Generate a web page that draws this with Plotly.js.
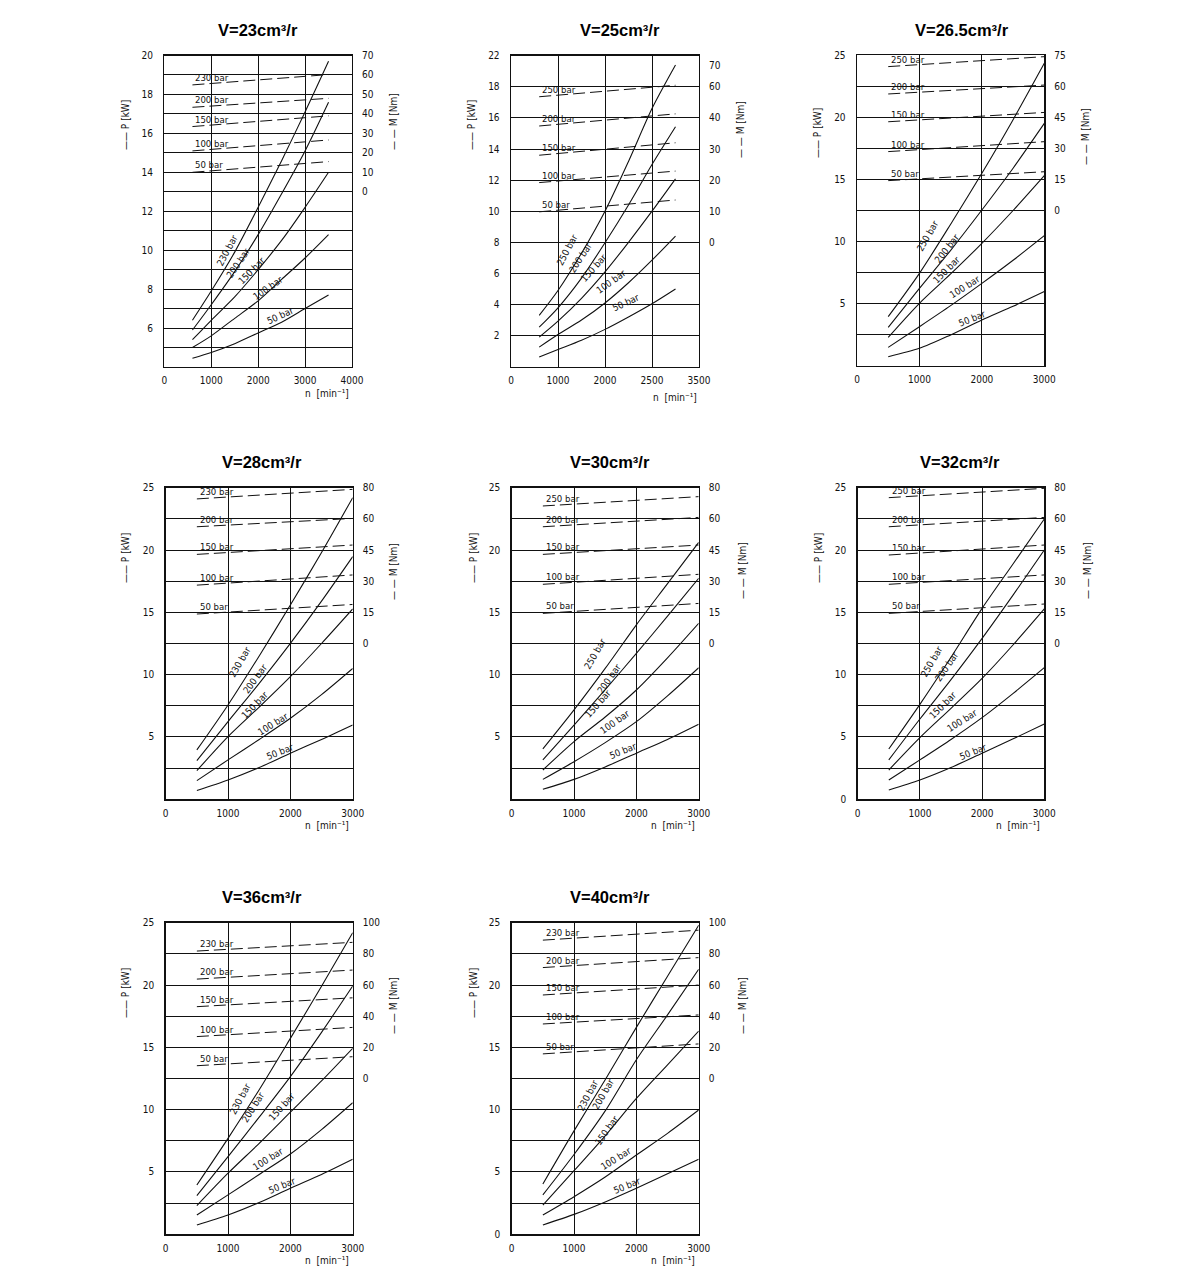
<!DOCTYPE html>
<html><head><meta charset="utf-8">
<script src="https://cdn.plot.ly/plotly-3.0.1.min.js"></script>
<style>html,body{margin:0;padding:0;background:#fff}#chart{width:1200px;height:1286px}</style>
</head><body><div id="chart"></div><script>
// ---------- data ----------
const pressA = ['230 bar','200 bar','150 bar','100 bar','50 bar'];
const pressB = ['250 bar','200 bar','150 bar','100 bar','50 bar'];

// V=23
const v23_n = [600,1000,1500,2000,2500,3000,3500];
const v23_P = [[6.4,7.9,9.9,12.2,14.6,17.1,19.7],[5.9,7.2,8.9,10.8,12.9,15.1,17.6],[5.4,6.4,7.6,9.0,10.5,12.2,14.0],[5.0,5.6,6.5,7.4,8.5,9.6,10.8],[4.45,4.75,5.2,5.75,6.3,7.0,7.7]];
const v23_Mn = [600,3500];
const v23_M = [[54.9,60.2],[43.4,48],[33.5,39],[21,26.6],[10,15.5]];
// V=25
const v25_n = [600,1000,1500,2000,2500,3000,3500];
const v25_P = [[3.3,4.9,7.3,10.0,13.2,16.6,19.4],[2.54,3.79,5.7,7.97,10.4,13.0,15.43],[1.9,2.93,4.4,6.1,8.0,10.0,12.08],[1.26,2.07,3.0,4.1,5.4,6.85,8.4],[0.62,1.1,1.7,2.4,3.2,4.05,5.0]];
const v25_Mn = [600,3500];
const v25_M = [[46.8,50.5],[37.4,41.3],[28,32],[19.2,22.9],[9.8,13.6]];
// V=26.5
const v265_n = [500,1000,1500,2000,2500,3000];
const v265_P = [[3.97,7.45,11.4,15.49,19.8,24.33],[3.11,6.24,9.3,12.54,15.9,19.5],[2.3,5.04,7.4,9.86,12.5,15.3],[1.5,3.16,4.85,6.64,8.5,10.48],[0.75,1.42,2.5,3.7,4.8,5.98]];
const v265_Mn = [500,3000];
const v265_M = [[69.4,74.2],[56.2,60.5],[42.8,47.3],[28.4,33.2],[14.4,18.7]];
// V=28
const v28_n = [500,1000,1500,2000,2500,3000];
const v28_P = [[3.96,7.57,11.5,15.59,19.8,24.2],[3.1,6.23,9.3,12.51,15.9,19.47],[2.3,5.03,7.4,9.84,12.5,15.27],[1.5,3.16,4.8,6.5,8.4,10.5],[0.7,1.55,2.55,3.7,4.8,5.96]];
const v28_Mn = [500,3000];
const v28_M = [[69.6,74.2],[56.2,60.2],[42.9,47.4],[28.1,33],[14.2,18.8]];
// V=30
const v30_n = [500,1000,1500,2000,2500,3000];
const v30_P = [[4.04,7.17,10.5,14.0,17.3,20.61],[3.16,5.96,8.8,11.7,14.7,17.73],[2.35,4.63,6.6,8.77,11.35,14.12],[1.6,3.02,4.55,6.23,8.3,10.56],[0.8,1.6,2.6,3.7,4.8,6.02]];
const v30_Mn = [500,3000];
const v30_M = [[66.2,70.7],[56.2,60.7],[42.9,47.4],[28.5,33.3],[14.5,19.3]];
// V=32
const v32_n = [500,1000,1500,2000,2500,3000];
const v32_P = [[4.04,7.62,11.4,15.32,18.9,22.49],[3.16,6.44,9.6,12.91,16.4,20.0],[2.35,4.95,7.3,9.7,12.4,15.27],[1.55,3.16,4.8,6.55,8.5,10.56],[0.75,1.55,2.55,3.7,4.85,6.04]];
const v32_Mn = [500,3000];
const v32_M = [[70.2,74.7],[56.2,60.7],[42.6,47.4],[28.5,33],[14.5,19]];
// V=36
const v36_n = [500,1000,1500,2000,2500,3000];
const v36_P = [[3.96,7.7,11.6,15.72,19.9,24.2],[3.1,6.23,9.4,12.65,16.2,19.92],[2.3,4.9,7.3,9.8,12.3,14.92],[1.55,3.16,4.8,6.44,8.4,10.56],[0.75,1.55,2.55,3.7,4.8,6.02]];
const v36_Mn = [500,3000];
const v36_M = [[81.8,87.4],[63.8,69.6],[46.1,51.8],[26.9,32.8],[8.2,14]];
// V=40
const v40_n = [500,1000,1500,2000,2500,3000];
const v40_P = [[4.04,8.3,12.4,16.6,20.7,24.8],[3.16,6.4,9.9,14.0,17.6,21.26],[2.35,5.1,7.9,10.9,13.6,16.31],[1.55,3.02,4.6,6.36,8.1,9.97],[0.75,1.6,2.6,3.7,4.85,6.02]];
const v40_Mn = [500,3000];
const v40_M = [[88.8,95.2],[71.2,77.6],[53.6,60],[35,40.8],[15.8,22.2]];

// tick labels
const xt3 = [0,1000,2000,3000], xtt3 = ['0','1000','2000','3000'];
const xt4 = [0,1000,2000,3000,4000], xtt23 = ['0','1000','2000','3000','4000'], xtt25 = ['0','1000','2000','2500','3500'];
const yt23 = [5,6,7,8,9,10,11,12,13,14,15,16,17,18,19,20];
const ytt23 = ['','6','','8','','10','','12','','14','','16','','18','','20'];
const yt25 = [2,4,6,8,10,12,14,16,18,20];
const ytt25 = ['2','4','6','8','10','12','14','16','18','22'];
const ytA = [2.5,5,7.5,10,12.5,15,17.5,20,22.5,25];
const yttA = ['','5','','10','','15','','20','','25'];
const ytB = [0,2.5,5,7.5,10,12.5,15,17.5,20,22.5,25];
const yttB = ['0','','5','','10','','15','','20','','25'];
const mt23 = [0,10,20,30,40,50,60,70], mtt23 = ['0','10','20','30','40','50','60','70'];
const mt25 = [0,10,20,30,40,50,56.7], mtt25 = ['0','10','20','30','40','60','70'];
const mt265 = [0,15,30,45,60,75], mtt265 = ['0','15','30','45','60','75'];
const mtt28 = ['0','15','30','45','60','80'];
const mt36 = [0,20,40,60,80,100], mtt36 = ['0','20','40','60','80','100'];

// ---------- layout of panels (pixel boxes: left, top, right, bottom) ----------
const panels = [
 {title:'V=23cm³/r', box:[164.3,55.5,352,367], tpos:[258,30], xr:[0,4000], xt:xt4, xtt:xtt23, yr:[4,20], yt:yt23, ytt:ytt23, y2r:[-90,70], y2t:mt23, y2tt:mtt23,
  press:pressA, n:v23_n, P:v23_P, Mn:v23_Mn, M:v23_M, ptl:[125,125], mtl:[393,122], ntl:[327,393],
  lab:[[1329,10.0,-62],[1577,9.37,-56],[1862,8.94,-45],[2217,8.08,-35],[2465,6.66,-25]]},
 {title:'V=25cm³/r', box:[511,55.7,699,366.7], tpos:[620,30], xr:[0,4000], xt:xt4, xtt:xtt25, yr:[0,20], yt:yt25, ytt:ytt25, y2r:[-40,60], y2t:mt25, y2tt:mtt25,
  press:pressB, n:v25_n, P:v25_P, Mn:v25_Mn, M:v25_M, ptl:[471,125], mtl:[741,130], ntl:[675,397],
  lab:[[1193,7.54,-62],[1479,7.0,-57],[1764,6.36,-48],[2121,5.5,-35],[2443,4.1,-25]]},
 {title:'V=26.5cm³/r', box:[857,55,1044.3,366], tpos:[962,30], xr:[0,3000], xt:xt3, xtt:xtt3, yr:[0,25], yt:ytA, ytt:yttA, y2r:[-75,75], y2t:mt265, y2tt:mtt265,
  press:pressB, n:v265_n, P:v265_P, Mn:v265_Mn, M:v265_M, ptl:[818,133], mtl:[1086,137], ntl:null,
  lab:[[1127,10.53,-60],[1436,9.46,-52],[1436,7.72,-45],[1730,6.38,-32],[1837,3.83,-22]]},
 {title:'V=28cm³/r', box:[165.7,487.7,352.7,799.3], tpos:[262,462], xr:[0,3000], xt:xt3, xtt:xtt3, yr:[0,25], yt:ytA, ytt:yttA, y2r:[-75,75], y2t:mt265, y2tt:mtt28,
  press:pressA, n:v28_n, P:v28_P, Mn:v28_Mn, M:v28_M, ptl:[125,558], mtl:[393,572], ntl:[327,825],
  lab:[[1193,11.04,-60],[1433,9.7,-54],[1433,7.57,-46],[1727,6.1,-32],[1834,3.82,-22]]},
 {title:'V=30cm³/r', box:[511.7,487.7,698.7,799.3], tpos:[610,462], xr:[0,3000], xt:xt3, xtt:xtt3, yr:[0,25], yt:ytA, ytt:yttA, y2r:[-75,75], y2t:mt265, y2tt:mtt28,
  press:pressB, n:v30_n, P:v30_P, Mn:v30_Mn, M:v30_M, ptl:[473,558], mtl:[742,571], ntl:[673,825],
  lab:[[1337,11.7,-60],[1560,9.7,-55],[1380,7.7,-48],[1658,6.23,-35],[1791,3.88,-22]]},
 {title:'V=32cm³/r', box:[857.7,487.7,1044.3,799.3], tpos:[960,462], xr:[0,3000], xt:xt3, xtt:xtt3, yr:[0,25], yt:ytB, ytt:yttB, y2r:[-75,75], y2t:mt265, y2tt:mtt28,
  press:pressB, n:v32_n, P:v32_P, Mn:v32_Mn, M:v32_M, ptl:[818,558], mtl:[1087,571], ntl:[1018,825],
  lab:[[1189,11.04,-60],[1430,10.64,-56],[1376,7.57,-45],[1671,6.36,-32],[1859,3.82,-22]]},
 {title:'V=36cm³/r', box:[165.7,922.7,352.7,1234.3], tpos:[262,897], xr:[0,3000], xt:xt3, xtt:xtt3, yr:[0,25], yt:ytA, ytt:yttA, y2r:[-100,100], y2t:mt36, y2tt:mtt36,
  press:pressA, n:v36_n, P:v36_P, Mn:v36_Mn, M:v36_M, ptl:[125,993], mtl:[393,1006], ntl:[327,1260],
  lab:[[1193,10.9,-62],[1406,10.24,-58],[1861,10.24,-48],[1647,6.1,-32],[1861,3.88,-22]]},
 {title:'V=40cm³/r', box:[511.7,922.7,698.7,1234.3], tpos:[610,897], xr:[0,3000], xt:xt3, xtt:xtt3, yr:[0,25], yt:ytB, ytt:yttB, y2r:[-100,100], y2t:mt36, y2tt:mtt36,
  press:pressA, n:v40_n, P:v40_P, Mn:v40_Mn, M:v40_M, ptl:[473,993], mtl:[742,1006], ntl:[673,1260],
  lab:[[1230,11.18,-62],[1471,11.3,-60],[1535,8.37,-55],[1668,6.1,-32],[1845,3.88,-22]]}
];

const W = 1200, H = 1286;
const FN = '"Liberation Sans Narrow", "DejaVu Sans Condensed", "Arial Narrow", sans-serif';
const FT = '"DejaVu Sans Condensed", "Liberation Sans Narrow", sans-serif';
const INK = '#111';
const px = x => x / W, py = y => 1 - y / H;

const traces = [], annotations = [];
const layout = {width:W, height:H, margin:{l:0,r:0,t:0,b:0}, showlegend:false,
  paper_bgcolor:'#fff', plot_bgcolor:'#fff', annotations};

panels.forEach((p, i) => {
  const k = i + 1, k2 = i + 9;
  const xa = 'x' + k, ya = 'y' + k, y2a = 'y' + k2;
  const [l, t, r, b] = p.box;
  layout['xaxis' + k] = {domain:[px(l), px(r)], anchor:ya, range:p.xr, tickmode:'array', tickvals:p.xt, ticktext:p.xtt,
    showgrid:true, gridcolor:INK, gridwidth:1, zeroline:false, showline:true, mirror:true, linecolor:INK, linewidth:1.4,
    ticks:'', ticklabelstandoff:4, tickfont:{family:FN, size:10, color:INK}, fixedrange:true};
  layout['yaxis' + k] = {domain:[py(b), py(t)], anchor:xa, range:p.yr, tickmode:'array', tickvals:p.yt, ticktext:p.ytt,
    showgrid:true, gridcolor:INK, gridwidth:1, zeroline:false, showline:true, mirror:true, linecolor:INK, linewidth:1.4,
    ticks:'', ticklabelstandoff:8, tickfont:{family:FN, size:10, color:INK}, fixedrange:true};
  layout['yaxis' + k2] = {overlaying:ya, anchor:xa, side:'right', range:p.y2r, tickmode:'array', tickvals:p.y2t, ticktext:p.y2tt,
    showgrid:false, zeroline:false, showline:false, ticks:'', ticklabelstandoff:9, tickfont:{family:FN, size:10, color:INK}, fixedrange:true};

  // power (solid)
  p.P.forEach(vals => traces.push({type:'scatter', mode:'lines', x:p.n, y:vals, xaxis:xa, yaxis:ya,
    line:{color:INK, width:1.1, shape:'spline', smoothing:0.8}, hoverinfo:'skip'}));
  // torque (dashed)
  p.M.forEach(vals => traces.push({type:'scatter', mode:'lines', x:p.Mn, y:vals, xaxis:xa, yaxis:y2a,
    line:{color:INK, width:1, dash:'12px,5px'}, hoverinfo:'skip'}));
  // labels on dashed curves
  p.M.forEach((vals, j) => annotations.push({xref:xa, yref:y2a, x:p.Mn[0], y:vals[0], text:p.press[j],
    xanchor:'left', yanchor:'bottom', showarrow:false, yshift:0, xshift:1, font:{family:FN, size:9.5, color:INK}}));
  // labels on solid curves
  p.lab.forEach((lb, j) => annotations.push({xref:xa, yref:ya, x:lb[0], y:lb[1], text:p.press[j], textangle:lb[2],
    showarrow:false, font:{family:FN, size:9.5, color:INK}}));
  // titles
  annotations.push({xref:'paper', yref:'paper', x:px(p.tpos[0]), y:py(p.tpos[1]), text:p.title, showarrow:false,
    xanchor:'center', yanchor:'middle', font:{family:'"Liberation Sans", Arial, sans-serif', size:16.5, color:'#000', weight:'bold'}});
  annotations.push({xref:'paper', yref:'paper', x:px(p.ptl[0]), y:py(p.ptl[1]), text:'—— P [kW]', textangle:-90, showarrow:false,
    xanchor:'center', yanchor:'middle', font:{family:FT, size:10, color:INK}});
  annotations.push({xref:'paper', yref:'paper', x:px(p.mtl[0]), y:py(p.mtl[1]), text:'— — M [Nm]', textangle:-90, showarrow:false,
    xanchor:'center', yanchor:'middle', font:{family:FT, size:10, color:INK}});
  if (p.ntl) annotations.push({xref:'paper', yref:'paper', x:px(p.ntl[0]), y:py(p.ntl[1]), text:'n  [min⁻¹]', showarrow:false,
    xanchor:'center', yanchor:'middle', font:{family:FN, size:10, color:INK}});
});

Plotly.newPlot('chart', traces, layout, {staticPlot:true, displayModeBar:false});
</script></body></html>
